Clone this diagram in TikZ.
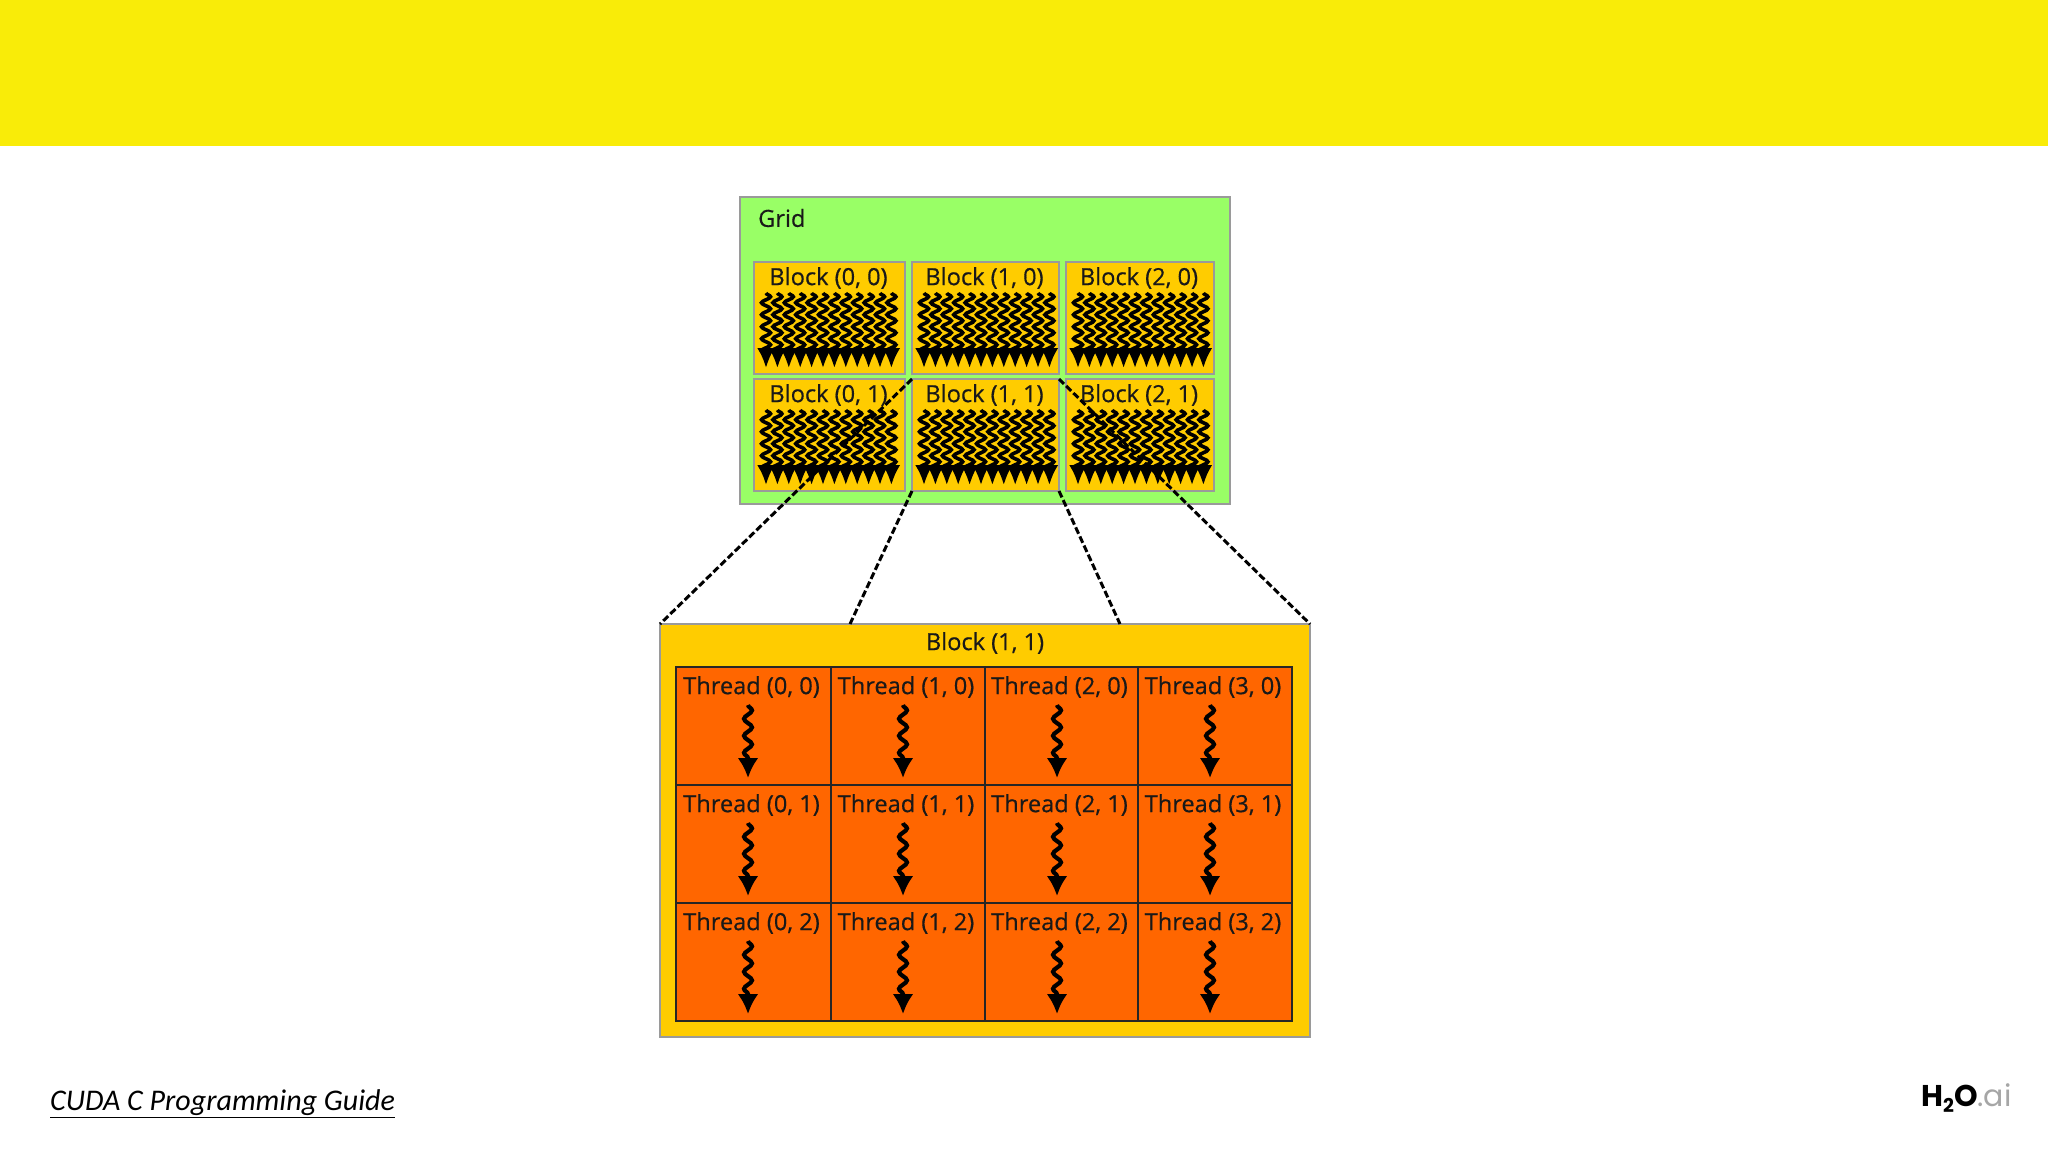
\documentclass[tikz,border=0pt]{standalone}
\usepackage{fontspec}
\setmainfont[FakeBold=0.5]{Open Sans}
\newfontfamily\footfont{Carlito}
\newfontfamily\logofont{Poppins}
\usetikzlibrary{snakes}
\usetikzlibrary{arrows.meta}
\definecolor{bandyellow}{HTML}{F9EC08}
\definecolor{gridgreen}{HTML}{99FF66}
\definecolor{blockamber}{HTML}{FFCC00}
\definecolor{threadorange}{HTML}{FF6600}
\definecolor{edgegray}{HTML}{9A9A9A}

\begin{document}
\begin{tikzpicture}[x=1pt,y=-1pt]
	\tikzstyle{gridbox}=[draw=edgegray,line width=2.4pt,fill=gridgreen,anchor=north west,inner sep=0,outer sep=0,minimum width=490pt,minimum height=307pt]
	\tikzstyle{blockbox}=[draw=edgegray,line width=2.4pt,fill=blockamber,anchor=north west,inner sep=0,outer sep=0,minimum height=112pt]
	\tikzstyle{threadbox}=[draw=black!85,line width=2.4pt,fill=threadorange,anchor=north west,inner sep=0,outer sep=0,minimum height=118pt]
	\tikzstyle{caption}=[inner sep=0,text=black!90,font=\fontsize{23.6}{26}\selectfont]
	\tikzstyle{wiggle}=[-{Latex[length=20pt,width=18pt]},line width=3.6pt,snake=snake,segment amplitude=4.5pt,segment length=12pt,line after snake=12pt]
	\tikzstyle{thinwiggle}=[-{Latex[length=20pt,width=21pt]},line width=4.2pt,snake=snake,segment amplitude=4pt,segment length=17pt,line after snake=14pt]
	\tikzstyle{link}=[line width=3pt,dash pattern=on 7pt off 3pt]

	\useasboundingbox (0,0) rectangle (2048,1152);
	\fill[white] (0,0) rectangle (2048,1152);
	\node (band) [fill=bandyellow,anchor=north west,inner sep=0,minimum width=2048pt,minimum height=146pt] at (0,0) {};

	% the grid of blocks
	\node (grid) [gridbox] at (740,197) {};
	\node (gridlabel) [caption,anchor=west] at (758,218) {Grid};
	\foreach \col/\xa/\wid in {0/754/151,1/912/147,2/1066/148} {
		\foreach \row/\ya in {0/262,1/379} {
			\node (block\col\row) [blockbox,minimum width=\wid pt] at (\xa,\ya) {};
			\node (blocklabel\col\row) [caption,anchor=center] at (\xa+0.5*\wid-1,\ya+16) {Block (\col, \row)};
			\foreach \i in {0,...,11} {
				\coordinate (top\col\row\i) at (\xa+12+\i*11.4,\ya+31);
				\coordinate (end\col\row\i) at (\xa+12+\i*11.4,\ya+106);
				\draw[wiggle] (top\col\row\i) -- (end\col\row\i);
			}
		}
	}

	% the block blown up
	\node (detail) [blockbox,minimum width=650pt,minimum height=413pt] at (660,624) {};
	\node (detaillabel) [caption,anchor=center] at (985,643) {Block (1, 1)};
	\coordinate (detailleft) at (850,624);
	\coordinate (detailright) at (1120,624);
	\foreach \col/\xa/\wid in {0/676/155,1/831/154,2/985/153,3/1138/154} {
		\foreach \row/\ya in {0/667,1/785,2/903} {
			\node (thread\col\row) [threadbox,minimum width=\wid pt] at (\xa,\ya) {};
			\node (threadlabel\col\row) [caption,anchor=center] at (\xa+0.5*\wid-2,\ya+20) {Thread (\col, \row)};
			\coordinate (ttop\col\row) at (\xa+72,\ya+38);
			\coordinate (tend\col\row) at (\xa+72,\ya+111);
			\draw[thinwiggle] (ttop\col\row) -- (tend\col\row);
		}
	}

	% dashed lines down from block (1, 1)
	\draw[link] (block11.north west) -- (detail.north west);
	\draw[link] (block11.south west) -- (detailleft);
	\draw[link] (block11.south east) -- (detailright);
	\draw[link] (block11.north east) -- (detail.north east);

	\node (source) [inner sep=0,anchor=west,font=\footfont\itshape\fontsize{30}{32}\selectfont] at (50,1104) {\underline{CUDA C Programming Guide}};
	\node (logo) [inner sep=0,anchor=west,font=\logofont\fontsize{30}{32}\selectfont] at (1921,1098) {\textbf{H\raisebox{-6pt}{\fontsize{19}{20}\selectfont 2}O}\textcolor{black!35}{.ai}};
\end{tikzpicture}
\end{document}
